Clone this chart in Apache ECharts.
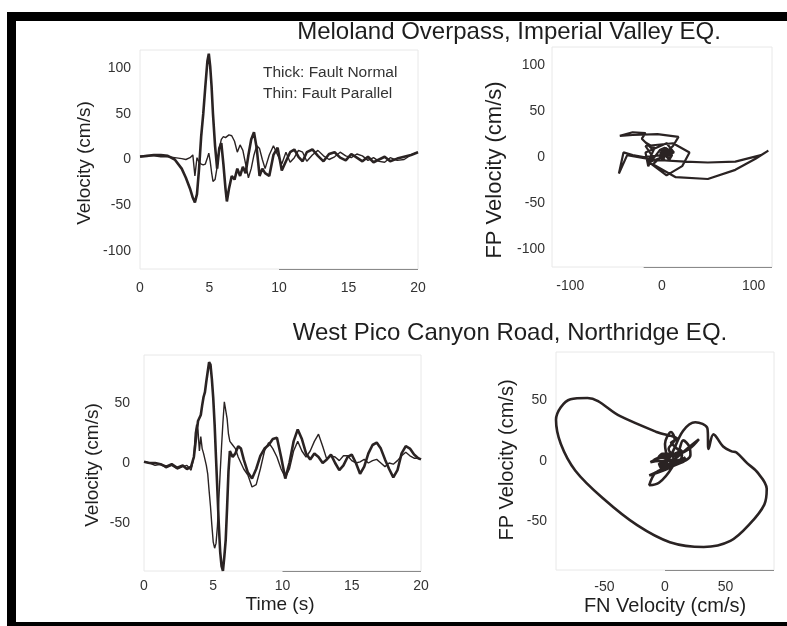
<!DOCTYPE html>
<html lang="en">

<head>
    <meta charset="UTF-8">
    <title>Velocity pulses</title>
    <script src="https://cdn.jsdelivr.net/npm/echarts@6.0.0/dist/echarts.min.js"></script>
    <style>
        body { margin: 0; background: #fff; }
    </style>
</head>

<body>
    <div id="main" style="width: 787px;height:626px;"></div>
    <script type="text/javascript">
        // Meloland Overpass, Imperial Valley - time (s), fault normal / fault parallel velocity (cm/s)
        const meloTime = [0, 0.5, 1, 1.5, 2, 2.5, 3, 3.3, 3.6, 3.8, 3.95, 4.1, 4.25, 4.4, 4.55, 4.7, 4.85, 4.95,
            5.05, 5.15, 5.25, 5.4, 5.55, 5.7, 5.85, 6.0, 6.15, 6.25, 6.4, 6.6, 6.8, 7.0, 7.2, 7.4, 7.6, 7.8,
            8.0, 8.2, 8.4, 8.6, 8.8, 9.0, 9.3, 9.6, 9.9, 10.2, 10.5, 10.8, 11.1, 11.4, 11.7, 12.0, 12.4, 12.8,
            13.2, 13.6, 14.0, 14.4, 14.8, 15.2, 15.6, 16.0, 16.4, 16.8, 17.2, 17.6, 18.0, 18.5, 19.0, 19.5, 20];
        const meloFN = [3, 4, 5, 5, 4, 0, -10, -20, -32, -42, -47, -38, -10, 25, 50, 80, 108, 116,
            102, 80, 50, 15, -10, 12, 18, -5, -32, -46, -32, -18, -22, -10, -18, -8, -15, 5,
            22, 30, 12, -18, -10, -15, -18, 5, 13, -12, -2, 8, 11, 3, -2, 8, 11, 4,
            -2, 6, 8, 2, -1, 6, 2, -2, 3, -3, 0, 3, -2, 1, 3, 5, 8];
        const meloFP = [4, 4, 4, 3, 3, 2, 1, 0, 2, 5, -18, 2, -3, -5, -6, -5, 2, 7,
            -2, -14, -24, -22, -8, 12, 22, 25, 24, 23, 27, 26, 20, 8, 16, 10, -5, -20,
            -10, 5, 15, 12, 0, -10, 5, 15, 5, -5, 8, -3, 2, 10, 8, -2, 5, 10,
            4, 0, 3, 8, 4, 2, 6, 4, -1, 2, -2, -3, 2, -1, 0, 5, 8];

        // West Pico Canyon Road, Northridge
        const nrTime = [0, 0.4, 0.8, 1.2, 1.6, 2.0, 2.4, 2.8, 3.1, 3.4,
            3.6, 3.7, 3.8, 3.9, 4.0, 4.1, 4.2, 4.3, 4.4, 4.5, 4.6, 4.7, 4.8, 4.9, 5.0, 5.1, 5.2, 5.3, 5.4,
            5.5, 5.6, 5.7, 5.8, 5.9, 6.0, 6.1, 6.2, 6.4, 6.6, 6.8, 7.0, 7.2,
            7.5, 7.8, 8.1, 8.4, 8.7, 9.0, 9.3, 9.6, 9.9, 10.2, 10.5, 10.8, 11.1, 11.4, 11.7, 12.0, 12.3,
            12.6, 12.9, 13.2, 13.5, 13.8, 14.1, 14.4, 14.7, 15.0, 15.3, 15.6, 15.9, 16.2, 16.5, 16.8,
            17.1, 17.4, 17.7, 18.0, 18.3, 18.6, 18.9, 19.2, 19.5, 19.8, 20];
        const nrFN = [1, 0, 0, -1, -3, -1, -4, -2, -5, -3,
            5, 15, 25, 35, 36, 40, 48, 55, 59, 68, 76, 84, 82, 70, 54, 32, 4, -23, -51,
            -74, -86, -90, -78, -64, -37, -7, 10, 5, 8, 14, 12, 3,
            -8, -13, -5, 6, 12, 15, 20, 21, 5, -13, 0, 18, 28, 20, 8, 3, 8,
            5, 0, 3, 7, 0, -6, -2, 5, 7, 0, -9, -3, 8, 15, 17,
            12, 3, -5, -12, -6, 8, 14, 12, 7, 4, 3];
        const nrFP = [1, 0, -2, -1, -4, -2, -5, -3, -2, -6,
            5, 25, 32, 27, 10, 22, 12, 8, 7, -2, -9, -23, -36, -52, -66, -71, -67, -53, -31,
            -8, 14, 34, 51, 52, 37, 24, 18, 15, 12, 5, 0, -5,
            -10, -20, -18, -5, 10, 17, 12, 5, -5, -12, -5, 10, 18, 10, 5, 10, 18,
            24, 14, 3, 6, 5, 2, 6, 6, 2, 0, 1, 3, 0, 2, 3,
            0, -3, 0, -1, 2, 6, 9, 6, 4, 4, 3];

        // tick labels
        const timeTicks = [0, 5, 10, 15, 20];
        const meloVelTicks = [-100, -50, 0, 50, 100];
        const meloFnTicks = [-100, 0, 100];
        const nrVelTicks = [-50, 0, 50];

        const ink = '#2a2323';
        const labelFont = { fontFamily: 'Liberation Sans', fontSize: 14, color: '#333' };

        function pairs(a, b) {
            return a.map((v, i) => [v, b[i]]);
        }

        function valueAxis(idx, min, max, ticks, margin) {
            return {
                type: 'value', gridIndex: idx, min: min, max: max,
                axisLine: { show: false },
                axisTick: { show: false },
                splitLine: { show: false },
                axisLabel: Object.assign({ customValues: ticks, margin: margin }, labelFont)
            };
        }

        function trace(xi, data, width, smooth) {
            return {
                type: 'line', xAxisIndex: xi, yAxisIndex: xi, data: data,
                showSymbol: false, smooth: smooth || false,
                lineStyle: { color: ink, width: width }
            };
        }

        // the darker stretch of the scanned bottom frame line
        function baseStroke(from, to, y) {
            return {
                silent: true, symbol: 'none', label: { show: false },
                lineStyle: { color: '#8a8a8a', width: 1, type: 'solid' },
                data: [[{ coord: [from, y] }, { coord: [to, y] }]]
            };
        }

        function text(str, x, y, size, rot) {
            return {
                type: 'text', x: x, y: y, rotation: rot || 0,
                style: {
                    text: str, fontFamily: 'Liberation Sans', fontSize: size, fill: '#1e1e1e',
                    align: 'center', verticalAlign: 'middle'
                }
            };
        }

        let myChart = echarts.init(document.getElementById('main'));

        const frame = { show: true, borderColor: '#e8e8e8', borderWidth: 1, backgroundColor: 'transparent' };

        let series = [
            trace(0, pairs(meloTime, meloFN), 2.6),
            trace(0, pairs(meloTime, meloFP), 1.4),
            trace(1, pairs(meloFN, meloFP), 2.2),
            trace(2, pairs(nrTime, nrFN), 2.6),
            trace(2, pairs(nrTime, nrFP), 1.4),
            trace(3, pairs(nrFN, nrFP), 2.6, 0.35)
        ];
        series[1].markLine = baseStroke(10, 20, -120);
        series[2].markLine = baseStroke(-20, 120, -120);
        series[4].markLine = baseStroke(10, 20, -90);
        series[5].markLine = baseStroke(0, 90, -90);

        let options = {
            animation: false,
            backgroundColor: '#fff',
            grid: [
                Object.assign({ left: 140, top: 50, width: 278, height: 219 }, frame),
                Object.assign({ left: 552, top: 47, width: 220, height: 220 }, frame),
                Object.assign({ left: 144, top: 355, width: 277, height: 216 }, frame),
                Object.assign({ left: 556, top: 352, width: 218, height: 218 }, frame)
            ],
            xAxis: [
                valueAxis(0, 0, 20, timeTicks, 12),
                valueAxis(1, -120, 120, meloFnTicks, 12),
                valueAxis(2, 0, 20, timeTicks, 8),
                valueAxis(3, -90, 90, nrVelTicks, 10)
            ],
            yAxis: [
                valueAxis(0, -120, 120, meloVelTicks, 9),
                valueAxis(1, -120, 120, meloVelTicks, 7),
                valueAxis(2, -90, 90, nrVelTicks, 14),
                valueAxis(3, -90, 90, nrVelTicks, 9)
            ],
            series: series,
            graphic: [
                // scanned page border
                { type: 'rect', shape: { x: 7, y: 12, width: 780, height: 9 }, style: { fill: '#000' } },
                { type: 'rect', shape: { x: 7, y: 12, width: 9, height: 614 }, style: { fill: '#000' } },
                { type: 'rect', shape: { x: 7, y: 622, width: 780, height: 4 }, style: { fill: '#000' } },
                text('Meloland Overpass, Imperial Valley EQ.', 509, 32, 24),
                text('West Pico Canyon Road, Northridge EQ.', 510, 333, 24),
                {
                    type: 'text', x: 263, y: 73,
                    style: { text: 'Thick: Fault Normal', fontFamily: 'Liberation Sans', fontSize: 15.5, fill: '#333', verticalAlign: 'middle' }
                },
                {
                    type: 'text', x: 263, y: 94,
                    style: { text: 'Thin: Fault Parallel', fontFamily: 'Liberation Sans', fontSize: 15.5, fill: '#333', verticalAlign: 'middle' }
                },
                text('Velocity (cm/s)', 85, 163, 19, Math.PI / 2),
                text('FP Velocity (cm/s)', 495, 170, 22, Math.PI / 2),
                text('Velocity (cm/s)', 93, 465, 19, Math.PI / 2),
                text('FP Velocity (cm/s)', 507, 460, 20, Math.PI / 2),
                text('Time (s)', 280, 605, 19),
                text('FN Velocity (cm/s)', 665, 606, 20)
            ]
        };

        myChart.setOption(options);
    </script>
</body>

</html>
